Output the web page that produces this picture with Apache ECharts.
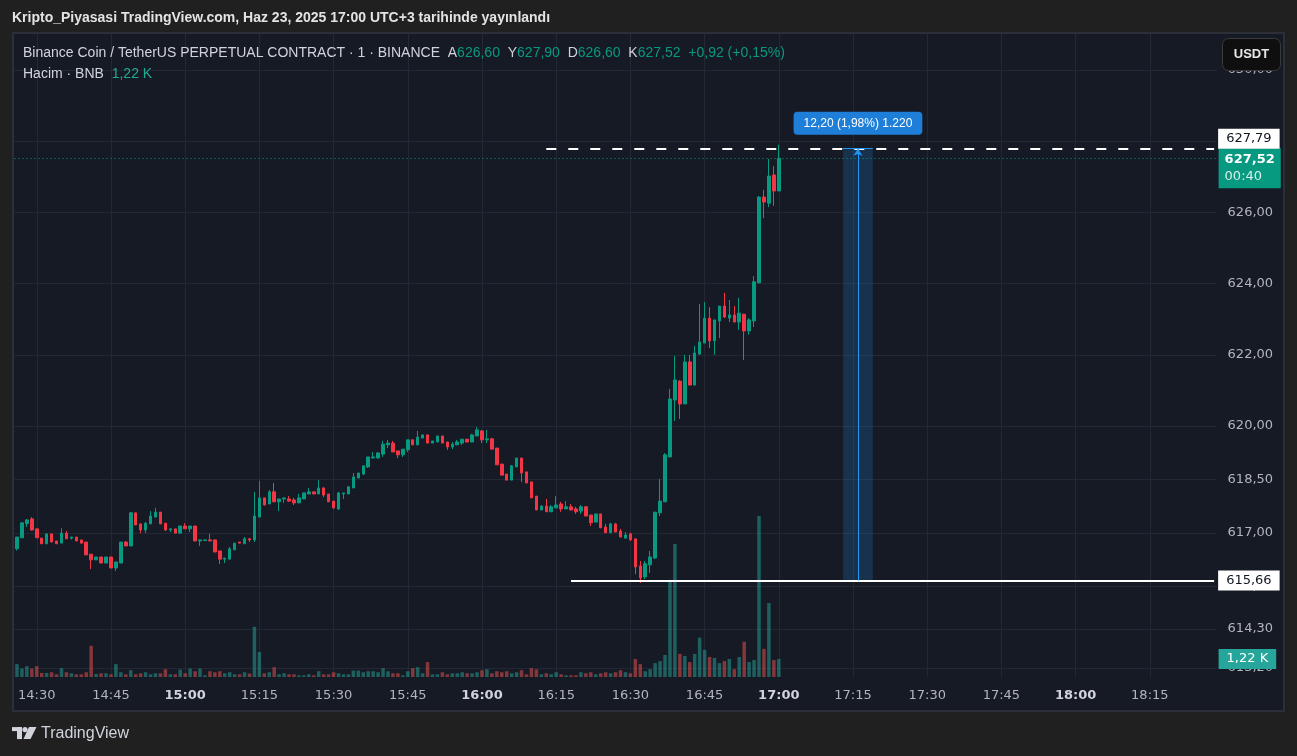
<!DOCTYPE html>
<html>
<head>
<meta charset="utf-8">
<script src="https://cdn.jsdelivr.net/npm/echarts@6/dist/echarts.min.js"></script>
<style>
html,body{margin:0;padding:0;background:#202020;}
#c{width:1297px;height:756px;}
</style>
</head>
<body>
<div id="c"></div>
<script>
// ---------- DATA ----------
const startTime = '14:26';
const axisMinutes = 243; // 14:26 .. 18:28 (future space on the right)

const opens = [616.55,616.86,617.26,617.39,617.11,616.85,616.69,616.97,616.77,616.71,616.99,616.85,616.88,616.80,616.74,616.40,616.24,616.32,616.15,616.32,616.01,616.15,616.74,616.63,617.56,617.25,617.08,617.25,617.44,617.58,617.27,617.08,617.11,616.99,617.19,617.11,617.19,616.77,616.78,616.80,616.80,616.49,616.26,616.26,616.52,616.74,616.69,616.83,
616.80,617.44,617.98,617.81,618.15,617.87,617.95,617.95,617.92,617.84,617.95,618.09,618.15,618.09,618.26,618.09,617.89,617.67,618.09,618.09,618.26,618.54,618.65,618.85,619.10,619.10,619.21,619.47,619.52,619.30,619.19,619.33,
619.61,619.47,619.66,619.75,619.52,619.55,619.72,619.55,619.41,619.47,619.52,619.63,619.55,619.72,619.86,619.61,619.64,619.38,618.93,618.65,618.48,618.85,619.10,618.71,618.43,618.03,617.64,617.75,617.59,617.70,617.81,617.67,617.73,617.67,617.61,617.73,617.50,617.30,617.53,617.16,617.00,617.25,617.05,616.85,616.97,616.83,616.07,615.76,616.10,616.29,617.56,617.87,
619.13,620.73,621.26,620.62,621.80,621.15,622.02,622.33,623.03,622.39,622.95,623.37,623.03,623.12,622.92,623.14,622.67,622.95,624.02,626.43,626.26,627.05,626.60];
const highs = [616.88,617.28,617.39,617.44,617.11,616.85,616.97,616.97,616.77,617.13,617.05,616.88,616.88,616.80,616.74,616.40,616.32,616.32,616.32,616.32,616.18,616.74,616.77,617.58,617.56,617.25,617.30,617.61,617.70,617.58,617.27,617.11,617.11,617.19,617.27,617.19,617.19,616.80,616.80,616.97,616.80,616.49,616.29,616.60,616.71,616.74,616.88,616.85,
618.15,618.46,617.98,618.20,618.40,617.95,617.98,618.03,617.98,618.09,618.12,618.26,618.15,618.48,618.29,618.09,617.89,618.15,618.12,618.31,618.68,618.68,618.88,619.13,619.27,619.27,619.58,619.61,619.58,619.30,619.35,619.61,
619.63,619.86,619.75,619.75,619.58,619.72,619.72,619.55,619.55,619.61,619.63,619.63,619.78,619.97,619.89,619.89,619.66,619.38,618.93,618.65,618.90,619.10,619.10,618.71,618.43,618.03,617.78,617.95,617.78,618.03,617.87,617.89,617.81,617.73,617.78,617.75,617.50,617.53,617.53,617.25,617.28,617.28,617.11,617.02,617.00,616.83,616.21,616.21,616.49,617.58,618.51,619.24,
621.04,621.97,621.29,622.00,622.00,622.25,623.43,623.48,623.34,622.98,623.37,623.74,623.54,623.37,623.60,623.14,623.03,624.21,626.46,626.63,627.50,627.30,627.90];
const lows = [616.50,616.86,617.16,617.06,616.86,616.69,616.69,616.74,616.69,616.71,616.83,616.81,616.77,616.69,616.38,615.98,616.24,616.15,616.15,616.01,615.93,616.15,616.63,616.63,617.22,616.99,616.99,617.25,617.44,617.25,617.05,617.02,616.99,616.99,617.11,617.02,616.77,616.63,616.78,616.77,616.46,616.12,616.15,616.26,616.52,616.71,616.69,616.74,
616.74,617.44,617.78,617.81,617.87,617.61,617.84,617.87,617.78,617.84,617.95,618.09,618.09,618.09,618.00,617.87,617.67,617.64,617.95,618.09,618.26,618.54,618.62,618.82,619.10,619.10,619.13,619.38,619.27,619.10,619.13,619.27,
619.47,619.47,619.66,619.52,619.52,619.55,619.52,619.33,619.35,619.47,619.47,619.55,619.55,619.72,619.52,619.52,619.35,618.91,618.62,618.48,618.48,618.85,618.43,618.40,617.98,617.64,617.64,617.59,617.59,617.70,617.59,617.67,617.64,617.53,617.53,617.47,617.19,617.30,617.14,617.00,617.00,617.02,616.88,616.85,616.77,615.84,615.59,615.70,615.87,616.26,617.47,617.87,
619.13,620.14,620.20,620.62,621.15,621.15,622.00,622.33,622.19,622.00,622.47,623.03,622.92,622.92,622.70,621.85,622.56,622.78,624.02,625.84,626.15,626.18,626.60];
const closes = [616.88,617.28,617.36,617.08,616.86,616.69,616.97,616.74,616.69,616.99,616.83,616.88,616.77,616.71,616.38,616.24,616.32,616.15,616.32,616.01,616.18,616.74,616.63,617.56,617.22,617.08,617.27,617.47,617.58,617.25,617.08,617.11,616.99,617.19,617.11,617.19,616.77,616.80,616.80,616.77,616.46,616.26,616.29,616.55,616.71,616.71,616.83,616.80,
617.47,617.98,617.78,618.15,617.87,617.95,617.98,617.89,617.84,617.98,618.12,618.15,618.09,618.26,618.06,617.87,617.70,618.12,618.12,618.29,618.57,618.68,618.88,619.13,619.13,619.24,619.49,619.52,619.27,619.19,619.35,619.61,
619.47,619.69,619.75,619.52,619.58,619.72,619.52,619.41,619.49,619.55,619.63,619.55,619.75,619.89,619.61,619.64,619.35,618.91,618.62,618.48,618.88,619.10,618.68,618.40,617.98,617.64,617.75,617.59,617.73,617.78,617.67,617.73,617.64,617.59,617.73,617.47,617.28,617.53,617.14,617.00,617.25,617.02,616.88,616.94,616.80,616.04,615.73,616.13,616.32,617.58,617.89,619.19,
620.76,621.29,620.62,621.80,621.15,622.05,622.36,623.03,622.39,622.98,623.37,623.06,623.12,622.92,623.17,622.67,622.98,624.05,626.43,626.29,627.02,626.60,627.52];
const volumes = [874,575,736,575,736,276,276,322,184,598,322,253,184,184,322,2116,207,253,253,184,874,322,184,460,184,253,322,184,253,253,529,184,184,506,253,575,391,575,115,391,322,391,253,322,184,184,322,230,
3404,1702,253,322,667,184,253,184,184,115,115,184,115,391,184,184,322,253,184,184,437,437,322,391,391,322,598,391,253,253,115,391,
598,667,253,1012,184,184,322,184,253,253,322,253,253,322,460,529,253,391,322,391,253,322,460,184,598,529,184,253,184,322,184,115,115,115,322,253,322,184,253,322,253,322,460,322,253,1219,874,391,529,943,1081,1495,
6580,9020,1564,1426,1012,1564,2668,1840,1357,1288,943,1081,1219,529,1357,2392,1012,1150,10920,1909,5014,1150,1220];

const xTickLabels = ['14:30','14:45','15:00','15:15','15:30','15:45','16:00','16:15','16:30','16:45','17:00','17:15','17:30','17:45','18:00','18:15'];
const yTicks = [630, 628, 626, 624, 622, 620, 618.5, 617, 615.5, 614.3, 613.2];

const lastPrice = 627.52, lastCountdown = '00:40';
const measureTop = 627.79, measureBottom = 615.66;
const measureStart = '17:13', measureEnd = '17:19', measureMid = '17:16';
const measureText = '12,20 (1,98%) 1.220';
const dashedFrom = '16:13', solidFrom = '16:18';
const lastVolume = 1220, lastVolumeText = '1,22 K';

const titleText = 'Kripto_Piyasasi TradingView.com, Haz 23, 2025 17:00 UTC+3 tarihinde yayınlandı';
const symbolText = 'Binance Coin / TetherUS PERPETUAL CONTRACT · 1 · BINANCE';
const ohlcText = { A: '626,60', Y: '627,90', D: '626,60', K: '627,52', chg: '+0,92 (+0,15%)' };
const volLegend = { name: 'Hacim · BNB', value: '1,22 K' };

// ---------- BUILD ----------
const UP = '#089981', DOWN = '#f23645';
const GRIDC = '#242834';
const AXIS_FONT = 'DejaVu Sans';
const UI_FONT = 'Liberation Sans';
const fmt2 = v => v.toFixed(2).replace('.', ',');

const [sh, sm] = startTime.split(':').map(Number);
const categories = [];
for (let k = 0; k < axisMinutes; k++) {
  const m = sh * 60 + sm + k;
  categories.push(String(Math.floor(m / 60)).padStart(2, '0') + ':' + String(m % 60).padStart(2, '0'));
}
const candleData = opens.map((o, i) => [o, closes[i], lows[i], highs[i]]);
const volData = volumes.map((v, i) => ({
  value: v,
  itemStyle: { color: closes[i] >= opens[i] ? 'rgba(38,166,154,0.5)' : 'rgba(239,83,80,0.5)' }
}));

const GL = 14.5, GW = 1202.1, GT = 34, GB = 677;

const chart = echarts.init(document.getElementById('c'), null, { renderer: 'canvas' });

const tagLabel = (text, bg, fg, extra) => Object.assign({
  show: true, position: 'end', formatter: text, backgroundColor: bg, color: fg,
  fontFamily: AXIS_FONT, fontSize: 13, padding: [4, 8, 3, 8], distance: 2
}, extra || {});

chart.setOption({
  animation: false,
  backgroundColor: '#202020',
  textStyle: { fontFamily: UI_FONT },
  grid: [
    { left: GL, width: GW, top: GT, height: GB - GT },
    { left: GL, width: GW, top: GB - 200, height: 200 }
  ],
  xAxis: [
    {
      type: 'category', data: categories, gridIndex: 0, boundaryGap: true,
      axisLine: { show: false }, axisTick: { show: false }, splitLine: { show: false },
      axisLabel: {
        show: true, margin: 12,
        interval: (idx, val) => xTickLabels.indexOf(val) >= 0,
        formatter: val => val.endsWith(':00') ? '{b|' + val + '}' : '{n|' + val + '}',
        rich: {
          b: { fontFamily: AXIS_FONT, fontSize: 13, fontWeight: 'bold', color: '#d1d4dc' },
          n: { fontFamily: AXIS_FONT, fontSize: 13, color: '#b2b5be' }
        }
      }
    },
    { type: 'category', data: categories, gridIndex: 1, show: false, boundaryGap: true }
  ],
  yAxis: [
    { type: 'value', gridIndex: 0, min: 612.949, max: 631.011, show: false, splitLine: { show: false } },
    { type: 'value', gridIndex: 1, min: 0, max: 13560, show: false, splitLine: { show: false } }
  ],
  series: [
    {
      name: 'grid', type: 'line', data: [], xAxisIndex: 0, yAxisIndex: 0, silent: true, clip: false, z: 1,
      markLine: {
        silent: true, z: 1, symbol: ['none', 'none'], animation: false,
        data: [
          ...yTicks.map(v => ({
            yAxis: v,
            lineStyle: { color: GRIDC, width: 1, type: 'solid' },
            label: { show: true, position: 'end', formatter: fmt2(v), color: '#b2b5be', fontFamily: AXIS_FONT, fontSize: 13, distance: 11 }
          })),
          ...xTickLabels.map(t => ({
            xAxis: t,
            lineStyle: { color: GRIDC, width: 1, type: 'solid' },
            label: { show: false }
          }))
        ]
      }
    },
    {
      name: 'Hacim', type: 'bar', data: volData, xAxisIndex: 1, yAxisIndex: 1, barWidth: 3.5, z: 2, silent: true, clip: false,
      markLine: {
        silent: true, z: 8, symbol: ['none', 'none'],
        data: [{ yAxis: lastVolume, lineStyle: { color: 'rgba(0,0,0,0)', width: 1 },
          label: tagLabel(lastVolumeText, '#26a69a', '#ffffff', { distance: 2, padding: [4, 8, 3, 8] }) }]
      }
    },
    {
      name: 'BNBUSDT', type: 'candlestick', data: candleData, xAxisIndex: 0, yAxisIndex: 0, barWidth: 3, z: 3, clip: false, silent: true,
      itemStyle: { color: UP, color0: DOWN, borderColor: UP, borderColor0: DOWN, borderWidth: 1 },
      markArea: {
        silent: true, z: 2,
        itemStyle: { color: 'rgba(33,150,243,0.2)' },
        data: [[{ coord: [measureStart, measureTop] }, { coord: [measureEnd, measureBottom] }]]
      },
      markLine: {
        silent: true, z: 6, symbol: ['none', 'none'], animation: false,
        data: [
          { yAxis: lastPrice, lineStyle: { color: UP, width: 1, type: [1, 3] },
            label: tagLabel('{a|' + fmt2(lastPrice) + '}\n{c|' + lastCountdown + '}', UP, '#ffffff', {
              offset: [0, 10], padding: [3, 6, 3, 6],
              rich: {
                a: { fontFamily: AXIS_FONT, fontSize: 13, fontWeight: 'bold', color: '#ffffff', lineHeight: 17 },
                c: { fontFamily: AXIS_FONT, fontSize: 13, color: '#d8f0ea', lineHeight: 17 }
              } }) },
          [ { coord: [dashedFrom, measureTop], lineStyle: { color: '#ffffff', width: 2, type: [10, 12] },
              label: tagLabel(fmt2(measureTop), '#ffffff', '#131722', { offset: [0, -10], distance: 4 }) },
            { coord: [categories[categories.length - 1], measureTop] } ],
          [ { coord: [solidFrom, measureBottom], lineStyle: { color: '#ffffff', width: 2, type: 'solid' },
              label: tagLabel(fmt2(measureBottom), '#ffffff', '#131722', { distance: 4 }) },
            { coord: [categories[categories.length - 1], measureBottom] } ],
          [ { coord: [measureStart, measureTop], lineStyle: { color: '#2196f3', width: 1, type: 'solid' }, label: { show: false } },
            { coord: [measureEnd, measureTop] } ],
          [ { coord: [measureMid, measureBottom], symbol: 'none',
              lineStyle: { color: '#2196f3', width: 1, type: 'solid' },
              label: { show: true, position: 'end', formatter: measureText, backgroundColor: '#1f7fd8', color: '#ffffff',
                       borderRadius: 4, padding: [6, 10, 5, 10], fontFamily: UI_FONT, fontSize: 12, distance: 14 } },
            { coord: [measureMid, measureTop], symbol: 'arrow', symbolSize: 7 } ]
        ]
      }
    }
  ],
  graphic: [
    { type: 'rect', z: -10, silent: true, shape: { x: 13, y: 33, width: 1271, height: 678 },
      style: { fill: '#161a25', stroke: '#2c2f38', lineWidth: 2 } },
    { type: 'text', z: 20, left: 12, top: 11, silent: true,
      style: { text: titleText, fill: '#e3e3e3', font: 'bold 14px "Liberation Sans"' } },
    { type: 'text', z: 20, left: 23, top: 46, silent: true,
      style: {
        text: '{g|' + symbolText + '}{g|  A}{v|' + ohlcText.A + '}{g|  Y}{v|' + ohlcText.Y + '}{g|  D}{v|' + ohlcText.D + '}{g|  K}{v|' + ohlcText.K + '}{v|  ' + ohlcText.chg + '}',
        rich: {
          g: { fill: '#d1d4dc', fontFamily: UI_FONT, fontSize: 14 },
          v: { fill: UP, fontFamily: UI_FONT, fontSize: 14 }
        }
      } },
    { type: 'text', z: 20, left: 23, top: 67, silent: true,
      style: {
        text: '{g|' + volLegend.name + '}{v|  ' + volLegend.value + '}',
        rich: {
          g: { fill: '#d1d4dc', fontFamily: UI_FONT, fontSize: 14 },
          v: { fill: '#22ab94', fontFamily: UI_FONT, fontSize: 14 }
        }
      } },
    { type: 'group', z: 30, left: 1222, top: 38, children: [
      { type: 'rect', z: 30, shape: { x: 0, y: 0, width: 58, height: 32, r: 6 }, style: { fill: '#0f0f0f', stroke: '#3a3a3a', lineWidth: 1 } },
      { type: 'text', z: 31, style: { text: 'USDT', x: 29, y: 16, align: 'center', verticalAlign: 'middle', fill: '#e6e6e6', font: 'bold 13px "Liberation Sans"' } }
    ] },
    { type: 'group', z: 20, left: 12, top: 727, silent: true, children: [
      { type: 'rect', shape: { x: 1, y: 1, width: 10, height: 4 }, style: { fill: '#d1d4dc' } },
      { type: 'rect', shape: { x: 6, y: 1, width: 5, height: 12 }, style: { fill: '#d1d4dc' } },
      { type: 'circle', shape: { cx: 14, cy: 3.5, r: 2.6 }, style: { fill: '#d1d4dc' } },
      { type: 'polygon', shape: { points: [[18, 1], [25.5, 1], [19.5, 13], [12.5, 13]] }, style: { fill: '#d1d4dc' } }
    ] },
    { type: 'text', z: 20, left: 41, top: 726, silent: true,
      style: { text: 'TradingView', fill: '#d1d4dc', font: '16px "Liberation Sans"' } }
  ]
});
</script>
</body>
</html>
